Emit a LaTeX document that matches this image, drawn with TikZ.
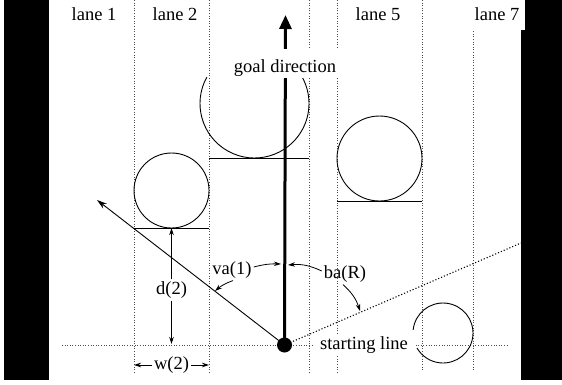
\documentclass[tikz,border=0pt]{standalone}
\usepackage{fontspec}
\setmainfont{Liberation Serif}
\usetikzlibrary{arrows.meta}
\begin{document}
\begin{tikzpicture}[x=1pt,y=1pt,
  every node/.style={font=\fontsize{18.5}{22}\selectfont},
  lanesep/.style={dotted, line width=0.6pt, black!70},
  thinline/.style={line width=0.9pt},
  tip/.style={-{Stealth[length=7pt,width=4.5pt]}, line width=0.8pt},
  lanelbl/.style={fill=white, inner xsep=6pt, inner ysep=2pt, text height=19pt, text depth=7pt},
  lbl/.style={inner sep=2pt},
]
\useasboundingbox (0,0) rectangle (562,384);
\fill[white] (0,0) rectangle (562,384);
% walls
\fill (4,4) rectangle (49,384);
\fill (521,4) rectangle (562,384);
% lane separators
\draw[lanesep] (134,384) -- (134,12);
\draw[lanesep] (209,384) -- (209,12);
\draw[lanesep] (309,384) -- (309,12);
\draw[lanesep] (337,384) -- (337,12);
\draw[lanesep] (422,384) -- (422,14);
\draw[lanesep] (473,384) -- (473,14);
% starting line
\draw[lanesep] (62,39) -- (509,39);
% lane labels
\node[lanelbl] (l1) at (94,369) {lane 1};
\node[lanelbl] (l2) at (175,369) {lane 2};
\node[lanelbl] (l5) at (378,369) {lane 5};
\node[lanelbl] (l7) at (497,369) {lane 7};
% obstacles
\draw[thinline] (171.5,193.5) circle (37.5);
\draw[thinline] (134,156) -- (209,156);
\draw[thinline] (254.5,280.5) ++(151:54.5) arc[start angle=151, end angle=389, radius=54.5];
\draw[thinline] (209,226) -- (309,226);
\draw[thinline] (379.5,225.5) circle (42.5);
\draw[thinline] (337,183) -- (422,183);
% robot and directions
\node[circle, fill, minimum size=15pt, inner sep=0pt] (dot) at (284.5,39) {};
\coordinate (goaltip) at (285.5,369);
\coordinate (vatip) at (97,184);
\coordinate (batip) at (521,141);
\draw[line width=3pt, -{Triangle[length=14pt,width=12pt]}] (dot.center) -- (goaltip);
\draw[thinline, -{Stealth[length=10pt,width=6pt]}] (dot.center) -- (vatip);
\draw[dotted, line width=1.1pt] (dot.center) -- (batip);
\node[fill=white, inner xsep=3pt, inner ysep=1.5pt, text height=22pt, text depth=4pt] (goal) at (285,321) {goal direction};
\node[fill=white, inner xsep=7pt, inner ysep=2pt, text height=12pt, text depth=4pt] (start) at (364,39) {starting line};
\draw[thinline] (443,51) ++(174:30) arc[start angle=174, end angle=-150, radius=30];
% labels
\node[lbl] (va) at (232,114) {va(1)};
\coordinate (vaG) at (281,120);
\coordinate (vaL) at (215,93);
\draw[tip] ([yshift=3pt]va.east) to[bend left=8] (vaG);
\draw[tip] ([xshift=1pt]va.south) to[bend right=10] (vaL);
\node[lbl] (ba) at (345,110) {ba(R)};
\coordinate (baG) at (288,119);
\coordinate (baL) at (360,73);
\draw[tip] ([yshift=3pt]ba.west) to[bend right=15] (baG);
\draw[tip] ([xshift=-2pt]ba.south) to[bend left=15] (baL);
\node[lbl] (d2) at (171.5,94) {d(2)};
\coordinate (dtop) at (171.5,156);
\coordinate (dbot) at (171.5,40);
\draw[tip] (d2.north) -- (dtop);
\draw[tip] (d2.south) -- (dbot);
\node[lbl] (w2) at (171.5,19) {w(2)};
\coordinate (wl) at (134,19);
\coordinate (wr) at (209,19);
\draw[tip] (w2.west) -- (wl);
\draw[tip] (w2.east) -- (wr);
\end{tikzpicture}
\end{document}
